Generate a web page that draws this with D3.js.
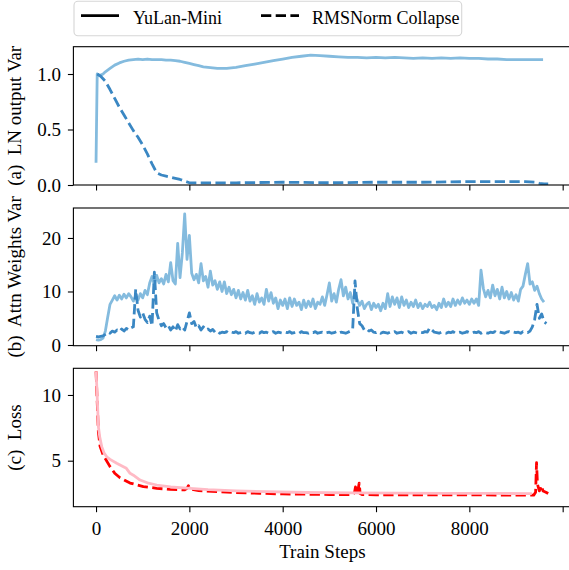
<!DOCTYPE html>
<html>
<head>
<meta charset="utf-8">
<script src="https://cdn.jsdelivr.net/npm/d3@7"></script>
<style>
  body { margin: 0; background: #fff; }
  svg { display: block; }
  svg text { font-family: "Liberation Serif", "Times New Roman", serif; }
</style>
</head>
<body>
<div id="chart"></div>
<script>
// ---------------- data ----------------
const xTicks = [0, 2000, 4000, 6000, 8000, 10000];
const xTickLabels = ["0", "2000", "4000", "6000", "8000", ""];   // last one falls off the picture

// (a) LN output variance, [step, value]
const lnYulan = [[0, 0.20], [25, 1.00], [60, 0.99], [100, 0.99], [150, 1.00], [200, 1.02], [300, 1.05],
  [400, 1.08], [500, 1.10], [600, 1.115], [700, 1.125], [800, 1.13], [900, 1.135], [1000, 1.13],
  [1100, 1.135], [1200, 1.13], [1300, 1.13], [1400, 1.13], [1500, 1.125], [1600, 1.125], [1700, 1.12],
  [1800, 1.115], [1900, 1.105], [2000, 1.095], [2100, 1.085], [2200, 1.075], [2300, 1.065], [2400, 1.06],
  [2500, 1.055], [2600, 1.05], [2700, 1.05], [2800, 1.05], [2900, 1.055], [3000, 1.06], [3200, 1.075],
  [3400, 1.09], [3600, 1.105], [3800, 1.12], [4000, 1.135], [4200, 1.15], [4400, 1.16], [4600, 1.17],
  [4800, 1.165], [5000, 1.16], [5200, 1.155], [5400, 1.15], [5600, 1.15], [5800, 1.145], [6000, 1.15],
  [6200, 1.145], [6400, 1.15], [6600, 1.145], [6800, 1.14], [7000, 1.145], [7200, 1.14], [7400, 1.145],
  [7600, 1.14], [7800, 1.145], [8000, 1.14], [8200, 1.14], [8400, 1.135], [8600, 1.135], [8800, 1.13],
  [9000, 1.13], [9200, 1.13], [9400, 1.13], [9580, 1.13]];
const lnCollapse = [[25, 1.00], [100, 0.98], [200, 0.935], [300, 0.86], [400, 0.78], [500, 0.70],
  [600, 0.63], [700, 0.56], [800, 0.49], [900, 0.43], [1000, 0.36], [1100, 0.28], [1200, 0.19],
  [1300, 0.11], [1400, 0.09], [1500, 0.08], [1600, 0.07], [1700, 0.06], [1800, 0.05], [1900, 0.035],
  [2000, 0.02], [2400, 0.02], [3000, 0.02], [4000, 0.025], [5000, 0.02], [6000, 0.025], [7000, 0.025],
  [8000, 0.03], [9000, 0.03], [9200, 0.03], [9400, 0.025], [9500, 0.015], [9600, 0.01], [9690, 0.01]];

// (b) attention weights variance, logged every 50 steps
const attnStep = 50;
const attnYulan = [
  1.0, 0.9, 1.0, 1.3, 2.6, 5.2, 7.6, 8.4, 9.2, 8.4,
  9.3, 8.6, 9.5, 8.8, 9.6, 9.0, 8.2, 9.2, 8.4, 9.6,
  8.8, 10.2, 9.4, 11.6, 12.8, 11.2, 13.0, 11.6, 12.4, 11.4,
  13.2, 11.8, 15.4, 12.0, 11.4, 19.0, 12.6, 17.2, 24.5, 16.0,
  20.5, 13.4, 12.2, 13.2, 11.6, 15.2, 12.0, 12.8, 10.8, 13.8,
  11.2, 12.0, 10.4, 11.8, 10.0, 11.8, 9.6, 10.8, 9.4, 10.4,
  8.8, 10.2, 8.6, 9.8, 8.4, 10.2, 8.2, 9.2, 7.6, 9.6,
  8.0, 8.8, 7.6, 10.4, 8.2, 9.8, 7.8, 8.8, 6.8, 8.4,
  7.4, 8.6, 6.8, 8.8, 7.2, 8.6, 7.4, 8.0, 6.6, 8.4,
  7.0, 8.2, 7.2, 8.6, 6.8, 8.0, 7.6, 9.0, 7.4, 9.4,
  11.6, 8.2, 9.6, 8.0, 10.4, 12.2, 9.2, 10.8, 8.6, 9.8,
  7.8, 9.8, 8.4, 7.4, 8.2, 6.8, 7.6, 8.0, 6.6, 7.8,
  7.0, 7.6, 6.4, 7.8, 6.8, 9.6, 7.2, 9.0, 7.6, 8.8,
  7.0, 9.0, 7.4, 8.4, 7.0, 8.0, 7.2, 8.4, 7.0, 7.8,
  6.8, 7.6, 7.2, 8.0, 7.0, 7.4, 6.6, 7.8, 7.0, 8.6,
  7.2, 8.0, 7.2, 8.6, 7.4, 8.4, 7.6, 8.8, 7.8, 8.4,
  7.6, 8.6, 7.8, 8.6, 7.4, 14.0, 10.6, 9.0, 10.2, 8.8,
  11.2, 9.2, 10.4, 8.6, 10.8, 8.8, 10.0, 8.6, 9.8, 8.4,
  9.4, 8.2, 10.4, 11.0, 13.2, 15.2, 11.4, 11.8, 10.2, 11.0,
  9.6, 8.6, 8.0];
const attnCollapse = [
  1.6, 1.5, 1.6, 1.7, 2.0, 2.4, 2.2, 2.6, 2.4, 2.8,
  2.5, 3.0, 2.6, 3.1, 2.8, 3.2, 3.4, 10.4, 6.5, 5.2,
  6.0, 4.8, 4.2, 5.4, 3.6, 13.6, 6.0, 4.6, 3.6, 4.0,
  3.2, 3.6, 2.8, 3.4, 2.6, 3.8, 3.0, 3.4, 2.8, 4.4,
  6.0, 4.0, 4.4, 3.2, 3.6, 2.8, 3.4, 2.8, 3.0, 2.6,
  2.9, 2.4, 2.6, 2.2, 2.4, 2.3, 2.5, 2.2, 2.4, 2.3,
  2.5, 2.2, 2.3, 2.4, 2.2, 2.5, 2.3, 2.2, 2.4, 2.3,
  2.2, 2.5, 2.3, 2.4, 2.2, 2.3, 2.5, 2.2, 2.4, 2.3,
  2.2, 2.4, 2.3, 2.5, 2.2, 2.3, 2.4, 2.2, 2.5, 2.3,
  2.3, 2.2, 2.4, 2.3, 2.5, 2.2, 2.3, 2.4, 2.2, 2.3,
  2.4, 2.2, 2.3, 2.5, 2.2, 2.4, 2.3, 2.2, 2.4, 2.6,
  3.0, 12.0, 6.8, 4.0, 3.6, 2.8, 3.0, 2.6, 2.8, 2.4,
  2.3, 2.5, 2.2, 2.4, 2.3, 2.2, 2.4, 2.3, 2.5, 2.2,
  2.3, 2.4, 2.2, 2.3, 2.5, 2.2, 2.4, 2.3, 2.2, 2.4,
  2.3, 2.5, 2.4, 3.2, 2.8, 2.4, 2.3, 2.2, 2.4, 2.3,
  2.2, 2.4, 2.3, 2.5, 2.2, 2.3, 2.4, 2.2, 2.3, 2.5,
  2.3, 2.2, 2.4, 2.3, 2.5, 2.2, 2.4, 2.3, 2.2, 2.4,
  2.3, 2.5, 2.2, 2.4, 2.3, 2.2, 2.4, 2.5, 2.3, 2.4,
  2.3, 2.4, 2.2, 2.5, 2.4, 2.3, 2.6, 3.4, 4.8, 7.6,
  5.0, 5.8, 4.4, 4.0];

// (c) loss, [step, value]
const lossYulan = [[0, 11.8], [20, 10.4], [35, 9.0], [50, 7.6], [80, 6.8], [122, 6.07], [170, 5.6],
  [229, 5.3], [300, 5.1], [443, 4.8], [586, 4.54], [650, 4.42], [729, 4.04], [800, 3.9], [943, 3.53],
  [1100, 3.32], [1300, 3.15], [1600, 3.0], [2014, 2.9], [2400, 2.8], [3000, 2.7], [3658, 2.64],
  [4500, 2.58], [5500, 2.55], [6500, 2.53], [7500, 2.52], [8500, 2.51], [9340, 2.5]];
const lossCollapse = [[0, 11.8], [25, 9.5], [50, 7.2], [86, 6.1], [157, 5.4], [300, 4.55], [400, 4.05],
  [514, 3.7], [729, 3.3], [1014, 3.03], [1300, 2.9], [1586, 2.82], [1900, 2.78], [1950, 2.9],
  [1980, 3.1], [2020, 2.85], [2200, 2.72], [2600, 2.64], [3000, 2.58], [3500, 2.52], [4000, 2.47],
  [4500, 2.45], [5000, 2.43], [5500, 2.42], [5540, 2.6], [5560, 3.0], [5580, 2.5], [5620, 2.9],
  [5640, 3.3], [5660, 2.5], [5700, 2.42], [6000, 2.41], [7000, 2.4], [8000, 2.4], [9000, 2.38],
  [9380, 2.38], [9420, 2.6], [9440, 4.85], [9460, 3.2], [9500, 2.7], [9540, 3.1], [9580, 2.7],
  [9640, 2.6], [9690, 2.5]];

// ---------------- layout ----------------
const width = 569, height = 570;
const font = 19;
const serif = '"Liberation Serif", "Times New Roman", serif';
const lw = 2.8;
const dash = "10.3,4.4";

const svg = d3.select("#chart").append("svg")
    .attr("width", width)
    .attr("height", height);

// shared x scale, right spine falls just outside the picture
const x = d3.scaleLinear().domain([-485, 10185]).range([73.4, 571.3]);

const attnPairs = arr => arr.map((v, i) => [i * attnStep, v]);

// the series listed last is painted on top
const panels = [
  { top: 46.7, bottom: 185, domain: [0, 1.246], ticks: [0, 0.5, 1.0], fmt: d3.format(".1f"),
    label: "(a)  LN output Var",
    series: [{ data: lnYulan, color: "#84bbde", dashed: false },
             { data: lnCollapse, color: "#3a87c3", dashed: true }] },
  { top: 208, bottom: 345.7, domain: [-0.13, 25.6], ticks: [0, 10, 20], fmt: d3.format("d"),
    label: "(b)  Attn Weights Var",
    series: [{ data: attnPairs(attnYulan), color: "#84bbde", dashed: false },
             { data: attnPairs(attnCollapse), color: "#3a87c3", dashed: true }] },
  { top: 368.3, bottom: 506.7, domain: [1.5, 12.03], ticks: [5, 10], fmt: d3.format("d"),
    label: "(c)  Loss",
    series: [{ data: lossCollapse, color: "#ff0000", dashed: true },
             { data: lossYulan, color: "#ffbac5", dashed: false }] }
];

panels.forEach((p, k) => {
  const y = d3.scaleLinear().domain(p.domain).range([p.bottom, p.top]);
  const g = svg.append("g");

  g.append("clipPath").attr("id", "clip" + k)
    .append("rect")
      .attr("x", x.range()[0]).attr("y", p.top)
      .attr("width", x.range()[1] - x.range()[0]).attr("height", p.bottom - p.top);

  const line = d3.line().x(d => x(d[0])).y(d => y(d[1]));

  g.append("g").attr("clip-path", `url(#clip${k})`)
    .selectAll("path")
    .data(p.series)
    .join("path")
      .attr("d", s => line(s.data))
      .attr("fill", "none")
      .attr("stroke", s => s.color)
      .attr("stroke-width", lw)
      .attr("stroke-linejoin", "round")
      .attr("stroke-dasharray", s => s.dashed ? dash : null);

  // frame
  g.append("rect")
      .attr("x", x.range()[0]).attr("y", p.top)
      .attr("width", x.range()[1] - x.range()[0]).attr("height", p.bottom - p.top)
      .attr("fill", "none").attr("stroke", "#000").attr("stroke-width", 1.1);

  // y axis
  const yAxis = g.append("g")
      .attr("transform", `translate(${x.range()[0]},0)`)
      .call(d3.axisLeft(y).tickValues(p.ticks).tickFormat(p.fmt).tickSize(5.5).tickPadding(7));

  // x axis (labels only on the last panel)
  const last = k === panels.length - 1;
  const xAxis = g.append("g")
      .attr("transform", `translate(0,${p.bottom})`)
      .call(d3.axisBottom(x).tickValues(xTicks).tickSize(5.5).tickPadding(9.5)
        .tickFormat((d, i) => last ? xTickLabels[i] : ""));

  [yAxis, xAxis].forEach(ax => {
    ax.select(".domain").remove();
    ax.attr("font-family", serif).attr("font-size", font);
    ax.selectAll(".tick line").attr("stroke", "#000").attr("stroke-width", 1.1);
    ax.selectAll(".tick text").attr("fill", "#000").style("font-family", serif);
  });

  // y label
  g.append("text")
      .attr("transform", `translate(21,${(p.top + p.bottom) / 2}) rotate(-90)`)
      .attr("text-anchor", "middle")
      .attr("font-size", font)
      .style("white-space", "pre")
      .text(p.label);
});

// x label
svg.append("text")
    .attr("x", (x.range()[0] + x.range()[1]) / 2)
    .attr("y", 558)
    .attr("text-anchor", "middle")
    .attr("font-size", font)
    .text("Train Steps");

// legend
const legend = svg.append("g");
legend.append("rect")
    .attr("x", 74).attr("y", 1.3).attr("width", 387.7).attr("height", 34.4)
    .attr("rx", 4)
    .attr("fill", "#fff").attr("stroke", "#d6d6d6").attr("stroke-width", 1.1);

const legendItems = [
  { name: "YuLan-Mini", x1: 81, x2: 119, tx: 133, dashed: false },
  { name: "RMSNorm Collapse", x1: 261, x2: 299, tx: 312, dashed: true }
];
legendItems.forEach(it => {
  legend.append("line")
      .attr("x1", it.x1).attr("x2", it.x2).attr("y1", 15.7).attr("y2", 15.7)
      .attr("stroke", "#000").attr("stroke-width", lw)
      .attr("stroke-dasharray", it.dashed ? dash : null);
  legend.append("text")
      .attr("x", it.tx).attr("y", 23.5)
      .attr("font-size", 18)
      .text(it.name);
});
</script>
</body>
</html>
